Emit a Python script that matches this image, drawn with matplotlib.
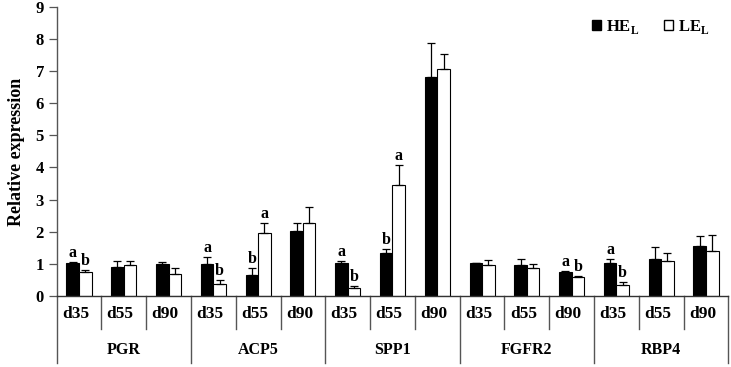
import numpy as np
import matplotlib
matplotlib.use("Agg")
import matplotlib.pyplot as plt
from matplotlib.patches import Patch

plt.rcParams['font.family'] = ['Liberation Serif', 'DejaVu Serif']
plt.rcParams['font.weight'] = 'bold'
plt.rcParams['mathtext.fontset'] = 'custom'
plt.rcParams['mathtext.rm'] = 'Liberation Serif:bold'
plt.rcParams['mathtext.bf'] = 'Liberation Serif:bold'

genes = ["PGR", "ACP5", "SPP1", "FGFR2", "RBP4"]
days = ["d35", "d55", "d90"]

# values per gene, d35/d55/d90
he_mean = [1.02, 0.89, 0.98,  1.00, 0.63, 2.02,  1.01, 1.34, 6.84,  1.01, 0.96, 0.75,  1.01, 1.13, 1.54]
he_err = [0.02, 0.18, 0.06,  0.21, 0.23, 0.26,  0.08, 0.12, 1.05,  0.02, 0.17, 0.02,  0.13, 0.39, 0.32]
le_mean = [0.75, 0.95, 0.68,  0.37, 1.95, 2.26,  0.24, 3.46, 7.09,  0.95, 0.86, 0.59,  0.34, 1.09, 1.38]
le_err = [0.06, 0.12, 0.17,  0.13, 0.33, 0.52,  0.06, 0.62, 0.47,  0.15, 0.13, 0.02,  0.08, 0.25, 0.50]
# significance letters (HE, LE)
letters = {0: ("a", "b"), 3: ("a", "b"), 4: ("b", "a"), 6: ("a", "b"),
           7: ("b", "a"), 11: ("a", "b"), 12: ("a", "b")}

n = len(he_mean)
x = np.arange(n) + 0.5
w = 0.28

fig = plt.figure(figsize=(7.31, 3.67), dpi=100)
ax = fig.add_axes([0.0774, 0.1948, 0.919, 0.7848])

ax.bar(x - w / 2, he_mean, w, color='black', edgecolor='black', linewidth=0.8)
ax.bar(x + w / 2, le_mean, w, color='white', edgecolor='black', linewidth=0.8)
ax.errorbar(x - w / 2, he_mean, yerr=[np.zeros(n), he_err], fmt='none',
            ecolor='black', elinewidth=0.9, capsize=3, capthick=0.9)
ax.errorbar(x + w / 2, le_mean, yerr=[np.zeros(n), le_err], fmt='none',
            ecolor='black', elinewidth=0.9, capsize=3, capthick=0.9)

for i, (lh, ll) in letters.items():
    ax.text(x[i] - w / 2, he_mean[i] + he_err[i] + 0.03, lh, ha='center', va='bottom',
            fontsize=11.5, fontweight='bold')
    ax.text(x[i] + w / 2, le_mean[i] + le_err[i] + 0.03, ll, ha='center', va='bottom',
            fontsize=11.5, fontweight='bold')

ax.set_xlim(0, n)
ax.set_ylim(0, 9)
ax.set_yticks(range(10))
ax.tick_params(axis='y', direction='out', length=6, width=0.9, color='#555555',
               labelsize=12, pad=3)
ax.set_xticks([])
for lab in ax.get_yticklabels():
    lab.set_fontweight('bold')
ax.set_ylabel("Relative expression", fontsize=13, fontweight='bold', labelpad=8)

for s in ['top', 'right']:
    ax.spines[s].set_visible(False)
ax.spines['left'].set_color('#555555')
ax.spines['bottom'].set_color('#333333')
ax.spines['left'].set_linewidth(1.0)
ax.spines['bottom'].set_linewidth(1.0)

# category table under the axis
tr = ax.get_xaxis_transform()
ax.plot([0, 0], [0, -0.235], transform=tr, color='#555555', lw=1.0, clip_on=False)
for k in range(1, n + 1):
    if k % 3 == 0:
        ax.plot([k, k], [0, -0.235], transform=tr, color='#555555', lw=1.0, clip_on=False)
    else:
        ax.plot([k, k], [0, -0.115], transform=tr, color='#555555', lw=1.0, clip_on=False)
for i in range(n):
    ax.text(x[i] - 0.38, -0.065, days[i % 3], transform=tr, ha='left', va='center',
            fontsize=12.5, fontweight='bold')
for g, name in enumerate(genes):
    ax.text(3 * g + 1.5, -0.19, name, transform=tr, ha='center', va='center',
            fontsize=11.5, fontweight='bold')

handles = [Patch(facecolor='black', edgecolor='black'),
           Patch(facecolor='white', edgecolor='black')]
ax.legend(handles, [r'HE$_{\mathregular{L}}$', r'LE$_{\mathregular{L}}$'],
          loc='upper right', bbox_to_anchor=(0.995, 1.015), ncol=2, frameon=False,
          handlelength=0.55, handleheight=0.55, handletextpad=0.3, columnspacing=1.5,
          prop={'size': 12, 'weight': 'bold'})

fig.savefig("out.png", dpi=100)
